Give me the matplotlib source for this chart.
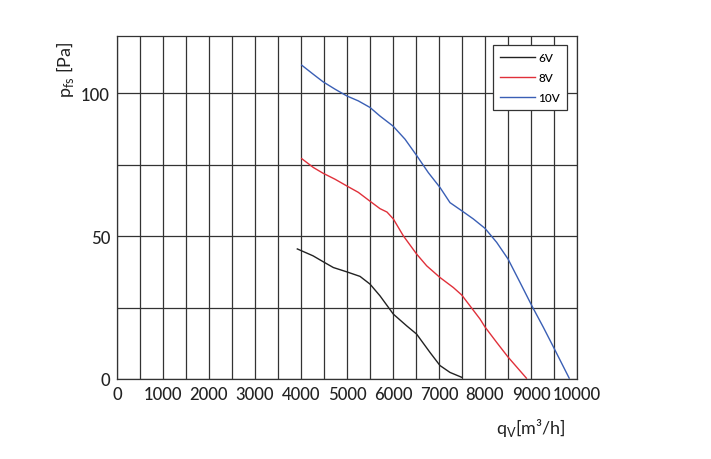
import matplotlib
matplotlib.use('Agg')
import matplotlib.pyplot as plt

plt.rcParams['font.family'] = ['Lato', 'DejaVu Sans']
plt.rcParams['font.weight'] = 'medium'

# airflow (m3/h) vs static pressure (Pa)
q_6v = [3920, 4261, 4485, 4703, 4993, 5283, 5500, 5717, 6007, 6297, 6514, 6804, 7022, 7239, 7493]
p_6v = [45.5, 43.1, 41.0, 39.0, 37.5, 35.9, 33.2, 29.1, 22.7, 18.6, 15.7, 9.3, 4.7, 2.3, 0.6]

q_8v = [4015, 4268, 4478, 4739, 5000, 5246, 5500, 5717, 5870, 6007, 6224, 6514, 6732, 7022,
        7312, 7493, 7891, 8000, 8254, 8500, 8900]
p_8v = [77.1, 74.0, 72.0, 69.9, 67.5, 65.3, 62.2, 59.6, 58.4, 56.0, 50.1, 43.7, 39.6, 35.5,
        32.0, 29.4, 21.0, 18.2, 12.8, 7.7, 0.3]

q_10v = [4015, 4268, 4478, 4739, 5000, 5246, 5500, 5717, 6000, 6261, 6522, 6768, 7022, 7239,
         7500, 7746, 8000, 8254, 8500, 8761, 9022, 9268, 9478, 9830]
p_10v = [109.8, 106.6, 104.0, 101.4, 99.0, 97.3, 95.0, 92.0, 88.5, 83.9, 78.0, 72.2, 67.0, 61.7,
         58.8, 56.0, 52.7, 47.8, 42.0, 33.8, 25.5, 18.1, 11.5, 0.3]

labels = ['6V', '8V', '10V']
colours = ['#222222', '#e0303a', '#3a5fb5']

xticks = [0, 1000, 2000, 3000, 4000, 5000, 6000, 7000, 8000, 9000, 10000]
yticks = [0, 50, 100]

fig = plt.figure(figsize=(7.11, 4.60), dpi=100)
ax = fig.add_axes([117/711, 1-380/460, 460/711, 343/460])

ax.plot(q_6v, p_6v, color=colours[0], lw=1.0, label=labels[0])
ax.plot(q_8v, p_8v, color=colours[1], lw=1.0, label=labels[1])
ax.plot(q_10v, p_10v, color=colours[2], lw=1.0, label=labels[2])

ax.set_xlim(0, 10000)
ax.set_ylim(0, 120)
ax.set_xticks(xticks)
ax.set_yticks(yticks)
ax.set_xticks(range(500, 10000, 1000), minor=True)
ax.set_yticks([25, 75], minor=True)
ax.grid(True, which='both', color='#333333', lw=0.9)
ax.set_axisbelow(True)
for s in ax.spines.values():
    s.set_color('#333333')
    s.set_linewidth(0.9)
ax.tick_params(which='both', length=0, labelsize=12, colors='#222222', pad=5)

ax.set_xlabel(r'q$_\mathregular{V}$[m³/h]', fontsize=13, color='#222222')
ax.xaxis.set_label_coords(0.9, -0.108)
ax.set_ylabel(r'p$_\mathregular{fs}$ [Pa]', fontsize=13, color='#222222')
ax.yaxis.set_label_coords(-0.09, 0.905)

leg = ax.legend(loc='upper right', bbox_to_anchor=(0.978, 0.974), borderaxespad=0,
                fontsize=8.5, frameon=True, fancybox=False, handlelength=2.9,
                borderpad=0.6, labelspacing=0.75, handletextpad=0.3)
leg.get_frame().set_edgecolor('#333333')
leg.get_frame().set_linewidth(0.9)
leg.get_frame().set_alpha(1)

fig.savefig('out.png', dpi=100)
